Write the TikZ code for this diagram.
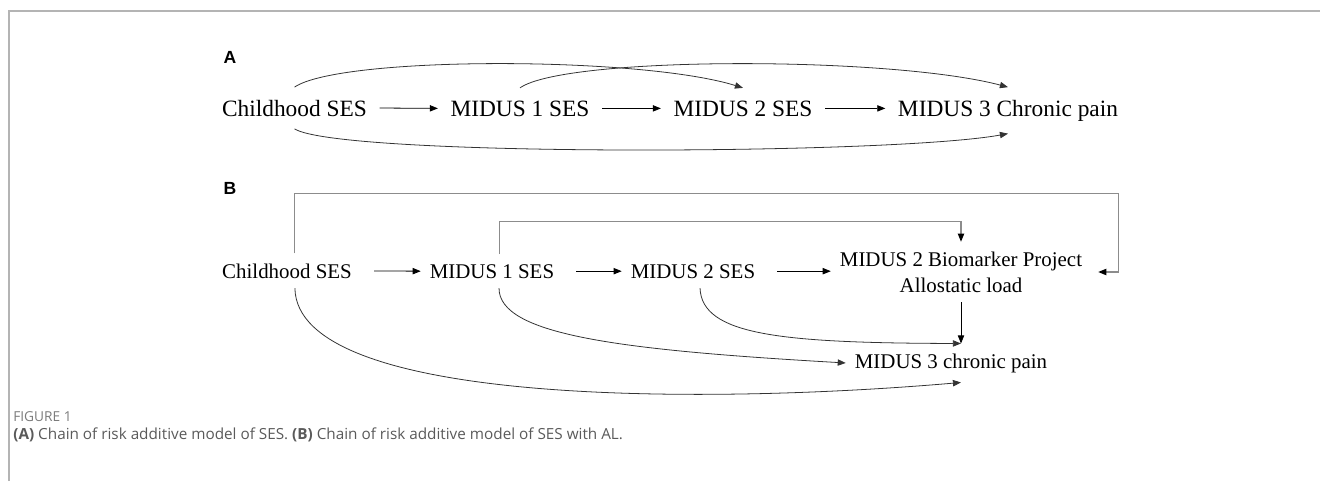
\documentclass[tikz,border=0pt]{standalone}
\usepackage{fontspec}
\setmainfont{Liberation Serif}
\newfontfamily\labfont{Liberation Sans}
\newfontfamily\capfont{Open Sans}
\usetikzlibrary{arrows.meta}
\definecolor{framegray}{HTML}{B4B4B4}
\definecolor{linkgray}{HTML}{8C8C8C}
\definecolor{capgray}{HTML}{5A5A5A}
\tikzset{
  big/.style={font=\fontsize{13.3}{16}\selectfont, anchor=base, inner xsep=7pt, inner ysep=7pt},
  small/.style={font=\fontsize{11.9}{14.7}\selectfont, anchor=base, inner xsep=5pt, inner ysep=5.5pt},
  arr/.style={-{Stealth[length=4.6pt,width=3.6pt,inset=0pt]}, line width=0.45pt},
  curve/.style={arr, draw=black!80},
  boxlink/.style={-{Stealth[length=4.6pt,width=3.6pt,inset=0pt,color=black]}, draw=linkgray, line width=0.6pt}
}
\begin{document}
\begin{tikzpicture}[x=0.02cm, y=-0.02cm]
    \useasboundingbox (0,0) rectangle (1320,481);
    \draw[framegray, line width=1pt] (9,481) -- (9,11) -- (1320,11);

    \node[font=\labfont\bfseries\fontsize{10}{12}\selectfont] (lblA) at (230,57) {A};
    \node[font=\labfont\bfseries\fontsize{10}{12}\selectfont] (lblB) at (230,188) {B};

    \node[big] (cs1) at (294.5,116) {Childhood SES};
    \node[big] (m1) at (520,116) {MIDUS 1 SES};
    \node[big] (m2) at (743,116) {MIDUS 2 SES};
    \node[big] (m3) at (1008,116) {MIDUS 3 Chronic pain};

    \draw[arr] (cs1.east) -- (m1.west);
    \draw[arr] (m1.east) -- (m2.west);
    \draw[arr] (m2.east) -- (m2.east -| m3.west);
    \draw[curve] (cs1.north) .. controls (340,56) and (640,56) .. (m2.north);
    \draw[curve] (m1.north) .. controls (565,56) and (890,56) .. (m3.north);
    \draw[curve] (cs1.south) .. controls (340,157) and (890,155) .. (m3.south);

    \node[small] (cs2) at (287,278) {Childhood SES};
    \node[small] (m1b) at (492,278) {MIDUS 1 SES};
    \node[small] (m2b) at (693,278) {MIDUS 2 SES};
    \node[small, anchor=center, align=center] (al) at (961,272) {MIDUS 2 Biomarker Project\\Allostatic load};
    \node[small] (m3b) at (951,368) {MIDUS 3 chronic pain};

    \draw[arr, shorten <=7.5pt] (cs2.east) -- (m1b.west);
    \draw[arr, shorten <=7.5pt] (m1b.east) -- (m2b.west);
    \draw[arr, shorten <=7.5pt] (m2b.east) -- (m2b.east -| al.west);
    \draw[boxlink] ([xshift=4.5pt]cs2.north) -- ++(0,-60) -- ++(824,0) |- ([xshift=4pt]al.east);
    \draw[boxlink] ([xshift=4pt]m1b.north) -- ++(0,-33) -| (al.north);

    \draw[arr] (al.south) -- (al.south |- m3b.north);
    \draw[curve] ([xshift=4pt]m2b.south) .. controls (702,335) and (780,343) .. (al.south |- m3b.north);
    \draw[curve] ([xshift=4pt]m1b.south) .. controls (499,335) and (620,350) .. (m3b.west);
    \draw[curve] ([xshift=4.5pt]cs2.south) .. controls (297,405) and (700,405) .. (al.south |- m3b.south);

    \node[font=\capfont\fontsize{7.8}{9}\selectfont, text=capgray!80, anchor=base west, inner sep=0] (fig) at (13,421) {FIGURE 1};
    \node[font=\capfont\fontsize{8.7}{10}\selectfont, text=capgray, anchor=base west, inner sep=0] (cap) at (13,439) {\textbf{(A)} Chain of risk additive model of SES. \textbf{(B)} Chain of risk additive model of SES with AL.};
\end{tikzpicture}
\end{document}
